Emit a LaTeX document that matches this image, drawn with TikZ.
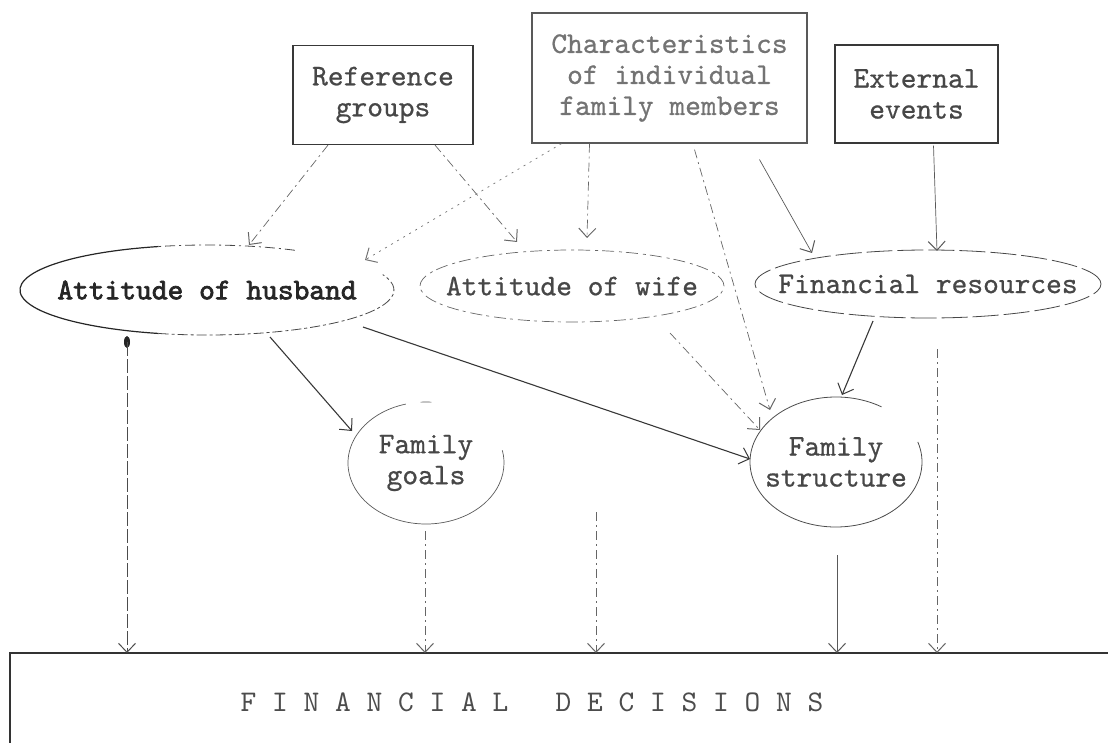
\documentclass[tikz,border=0pt]{standalone}
\usepackage{fontspec}
\usetikzlibrary{arrows.meta}
\newfontfamily\twreg{lmmono10-regular}[Extension=.otf, FakeBold=0.7]
\newfontfamily\twheavy{lmmono10-regular}[Extension=.otf, FakeBold=2.4]
\newfontfamily\twthin{lmmono10-regular}[Extension=.otf]
\newcommand{\twfont}{\twreg\fontsize{30}{31}\selectfont}
\newcommand{\twbold}{\twheavy\fontsize{30}{31}\selectfont}
\newcommand{\twlight}{\twthin\fontsize{30}{31}\selectfont}
\begin{document}
\begin{tikzpicture}[x=1pt,y=1pt,
  lbl/.style={font=\twfont, text=black!72, align=center, inner sep=0pt},
  boxn/.style={lbl, draw=black!78, line width=1.2pt},
  tip/.style={-{Straight Barb[length=9pt,width=17pt,line width=1pt]}},
  solidarr/.style={tip, draw=black!78, line width=1.1pt},
  thinarr/.style={tip, draw=black!65, line width=0.7pt},
  dasharr/.style={tip, draw=black!60, line width=0.7pt, dash pattern=on 9pt off 4pt on 2pt off 4pt},
  brokarr/.style={tip, draw=black!70, line width=0.8pt, dash pattern=on 14pt off 3pt},
  dotarr/.style={tip, draw=black!55, line width=0.7pt, dash pattern=on 2pt off 5pt},
  outl/.style={draw=black!72, line width=0.8pt},
]
\useasboundingbox (0,0) rectangle (1108,-743);

% top boxes
\node[boxn, minimum width=180pt, minimum height=99pt] (ref) at (383,-95) {Reference\\groups};
\node[boxn, text=black!55, draw=black!65, minimum width=275pt, minimum height=130pt] (chr) at (669.5,-78) {Characteristics\\of individual\\family members};
\node[boxn, minimum width=163pt, minimum height=98pt] (ext) at (916.5,-94) {External\\events};

% ovals (text nodes, outlines drawn around their centres)
\node[lbl, font=\twbold, text=black!85] (hus) at (207,-290) {Attitude of husband};
\node[lbl] (wif) at (572,-286) {Attitude of wife};
\node[lbl] (fin) at (928,-284) {Financial resources};
\node[lbl] (goa) at (426,-463) {Family\\goals};
\node[lbl] (str) at (836,-462) {Family\\structure};

% husband oval: solid left, dashed right
\draw[outl, line width=1.2pt, draw=black!85] (hus.center) ++(105:187pt and 45pt) arc[start angle=105, end angle=255, x radius=187pt, y radius=45pt];
\draw[outl, dash pattern=on 10pt off 3pt on 3pt off 3pt] (hus.center) ++(255:187pt and 45pt) arc[start angle=255, end angle=380, x radius=187pt, y radius=45pt];
\draw[outl, dash pattern=on 10pt off 4pt on 2pt off 4pt] (hus.center) ++(62:187pt and 45pt) arc[start angle=62, end angle=105, x radius=187pt, y radius=45pt];
% wife oval: dashed
\draw[outl, draw=black!60, line width=0.7pt, dash pattern=on 12pt off 4pt on 3pt off 5pt] (wif.center) ellipse[x radius=152pt, y radius=36pt];
% financial resources oval: long dashes
\draw[outl, dash pattern=on 26pt off 5pt] (fin.center) ellipse[x radius=173pt, y radius=34pt];
% family goals blob
\draw[outl, draw=black!65, line width=0.7pt] (goa.center) ++(105:78pt and 61pt) arc[start angle=105, end angle=372, x radius=78pt, y radius=61pt];
\draw[outl, draw=black!65, line width=0.7pt] (goa.center) ++(86:78pt and 61pt) arc[start angle=86, end angle=94, x radius=78pt, y radius=61pt];
% family structure blob
\draw[outl, draw=black!70, line width=0.8pt] (str.center) ++(58:86pt and 65pt) arc[start angle=58, end angle=378, x radius=86pt, y radius=65pt];

% decisions box
\node[lbl, font=\twlight, text=black!70] (dec) at (532,-702) {F~I~N~A~N~C~I~A~L~~~D~E~C~I~S~I~O~N~S};
\draw[draw=black!80, line width=1.8pt] (1108,-653) -- (10,-653) -- (10,-743);
\coordinate (d1) at (127,-653);
\coordinate (d2) at (425,-653);
\coordinate (d3) at (596,-653);
\coordinate (d4) at (837,-653);
\coordinate (d5) at (937,-653);
\coordinate (c3) at (596,-512);

% connectors from the top boxes
\draw[dasharr] ([xshift=-55pt]ref.south) -- ([xshift=42pt,yshift=45pt]hus.center);
\draw[dasharr] ([xshift=52pt]ref.south) -- ([xshift=-55pt,yshift=44pt]wif.center);
\draw[dotarr] ([xshift=-108pt]chr.south) -- ([xshift=158pt,yshift=30pt]hus.center);
\draw[dasharr] ([xshift=-80pt]chr.south) -- ([xshift=15pt,yshift=48pt]wif.center);
\draw[dasharr] ([xshift=25pt,yshift=-6pt]chr.south) -- ([xshift=-66pt,yshift=52pt]str.center);
\draw[thinarr] ([xshift=90pt,yshift=-16pt]chr.south) -- ([xshift=-116pt,yshift=31pt]fin.center);
\draw[thinarr] ([xshift=17pt,yshift=-2pt]ext.south) -- ([xshift=9pt,yshift=33pt]fin.center);

% middle connectors
\draw[solidarr] ([xshift=63pt,yshift=-47pt]hus.center) -- ([xshift=-74pt,yshift=32pt]goa.center);
\draw[solidarr] ([xshift=156pt,yshift=-37pt]hus.center) -- ([xshift=-86pt,yshift=3pt]str.center);
\draw[dasharr] ([xshift=98pt,yshift=-47pt]wif.center) -- ([xshift=-76pt,yshift=32pt]str.center);
\draw[solidarr] ([xshift=-55pt,yshift=-37pt]fin.center) -- ([xshift=6pt,yshift=67pt]str.center);

% connectors into the decisions box
\fill[black!85] ([xshift=-80pt,yshift=-52pt]hus.center) ellipse[x radius=3pt, y radius=6pt];
\draw[brokarr] ([xshift=-80pt,yshift=-52pt]hus.center) -- (d1);
\draw[dasharr] ([xshift=-1pt,yshift=-68pt]goa.center) -- (d2);
\draw[dasharr] (c3) -- (d3);
\draw[thinarr, line width=0.9pt] ([xshift=1pt,yshift=-93pt]str.center) -- (d4);
\draw[dasharr] ([xshift=9pt,yshift=-65pt]fin.center) -- (d5);
\end{tikzpicture}
\end{document}
